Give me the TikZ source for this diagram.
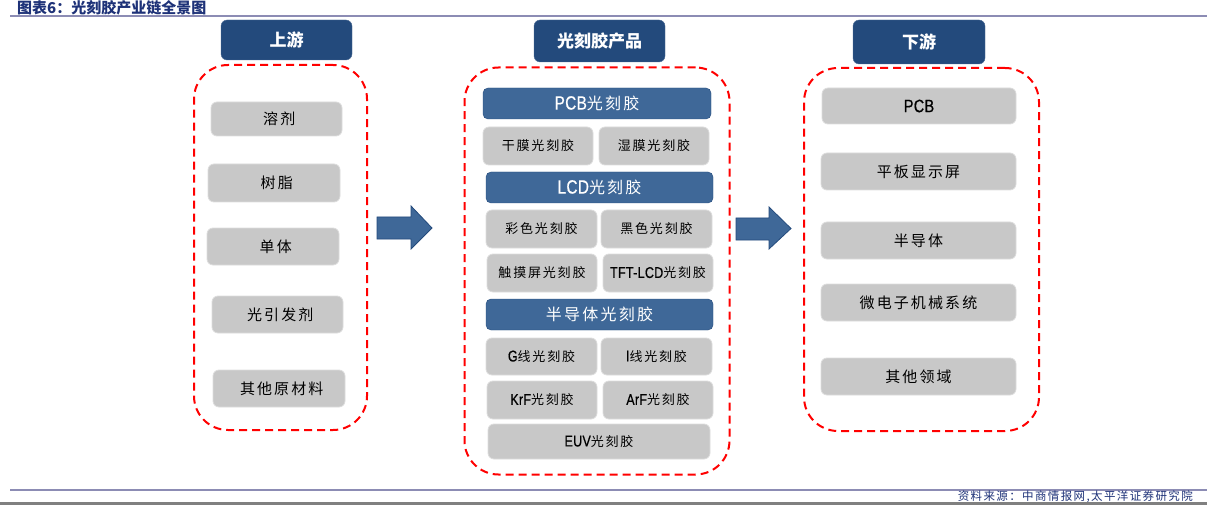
\documentclass[tikz,border=0pt]{standalone}
\usepackage{fontspec}
\setmainfont{Noto Sans CJK SC}
\newfontfamily\spc[LetterSpace=14]{Noto Sans CJK SC}
\newfontfamily\latf[FakeStretch=0.8,Scale=1.2,FakeBold=0.6]{Liberation Sans}
\newcommand{\lt}[1]{{\latf\addfontfeature{LetterSpace=2}#1}}
\definecolor{hdrblue}{HTML}{234A7C}
\definecolor{barblue}{HTML}{3F6898}
\definecolor{boxgray}{HTML}{C8C8C8}
\definecolor{boxedge}{HTML}{DCDCDC}
\definecolor{rulecol}{HTML}{8C8CB4}
\definecolor{titlecol}{HTML}{1E3278}
\begin{document}
\begin{tikzpicture}[x=1pt,y=-1pt,
  hdr/.style={draw=hdrblue!80!white, fill=hdrblue, rounded corners=6pt, text=white, font=\bfseries\fontsize{17}{17}\selectfont, inner sep=0pt},
  bar/.style={draw=hdrblue, fill=barblue, rounded corners=5pt, text=white, font=\spc\fontsize{16}{16}\selectfont, inner sep=0pt},
  gbox/.style={draw=boxedge, line width=0.8pt, fill=boxgray, rounded corners=6pt, text=black, font=\spc\fontsize{15}{15}\selectfont, inner sep=0pt},
  mbox/.style={gbox, font=\spc\fontsize{13}{13}\selectfont},
  dashbox/.style={draw=red, line width=2pt, dash pattern=on 8pt off 5pt, rounded corners=34pt, inner sep=0pt},
  blockarrow/.style={fill=barblue, draw=hdrblue, line width=0.8pt}
]
\useasboundingbox (0,0) rectangle (1207,505);
% title and rules
\node[anchor=west, text=titlecol, font=\bfseries\fontsize{15}{15}\selectfont, inner sep=0pt] (title) at (17,8) {图表6：光刻胶产业链全景图};
\draw[rulecol, line width=2pt] (10,16.5) -- (1207,16.5);
\draw[rulecol, line width=2pt] (10,489.5) -- (1207,489.5);
\draw[gray, line width=3pt] (0,503.5) -- (1207,503.5);
\node[anchor=east, text=titlecol, font=\fontsize{11.5}{11.5}\selectfont\addfontfeature{LetterSpace=12}, inner sep=0pt] (src) at (1193,497) {资料来源：中商情报网,太平洋证券研究院};

% headers
\node[hdr, minimum width=131pt, minimum height=40pt] (up) at (286.5,40) {上游};
\node[hdr, minimum width=131pt, minimum height=42pt] (prod) at (599.5,41) {光刻胶产品};
\node[hdr, minimum width=132pt, minimum height=44pt] (down) at (919,42) {下游};

% dashed containers
\node[dashbox, minimum width=173pt, minimum height=365pt] (left) at (280.5,247.5) {};
\node[dashbox, minimum width=265pt, minimum height=407pt] (mid) at (597,271) {};
\node[dashbox, minimum width=235pt, minimum height=363pt] (right) at (921.5,249.5) {};

% upstream
\node[gbox, minimum width=131pt, minimum height=34pt] (u1) at (276.5,119) {\ 溶剂};
\node[gbox, minimum width=132pt, minimum height=38pt] (u2) at (274,183) {\ 树脂};
\node[gbox, minimum width=132pt, minimum height=37pt] (u3) at (273,246.5) {\ 单体};
\node[gbox, minimum width=131pt, minimum height=37pt] (u4) at (277.5,314.5) {\ 光引发剂};
\node[gbox, minimum width=132pt, minimum height=37pt] (u5) at (279,388.5) {\ 其他原材料};

% products
\node[bar, minimum width=228pt, minimum height=31pt] (pcb) at (597,103.5) {\lt{PCB}光刻胶};
\node[mbox, minimum width=110pt, minimum height=38pt] (p1) at (538,146) {干膜光刻胶};
\node[mbox, minimum width=110pt, minimum height=38pt] (p2) at (654,146) {湿膜光刻胶};
\node[bar, minimum width=227pt, minimum height=31pt] (lcd) at (599.5,187.5) {\lt{LCD}光刻胶};
\node[mbox, minimum width=111pt, minimum height=38pt] (l1) at (541.5,229) {彩色光刻胶};
\node[mbox, minimum width=111pt, minimum height=38pt] (l2) at (656.5,229) {黑色光刻胶};
\node[mbox, minimum width=110pt, minimum height=38pt] (l3) at (542,273) {触摸屏光刻胶};
\node[mbox, minimum width=110pt, minimum height=38pt] (l4) at (658,273) {\lt{TFT-LCD}光刻胶};
\node[bar, minimum width=227pt, minimum height=31pt] (semi) at (599.5,314.5) {半导体光刻胶};
\node[mbox, minimum width=111pt, minimum height=37pt] (s1) at (541.5,356.5) {\lt{G}线光刻胶};
\node[mbox, minimum width=111pt, minimum height=37pt] (s2) at (656.5,356.5) {\lt{I}线光刻胶};
\node[mbox, minimum width=110pt, minimum height=38pt] (s3) at (542,400) {\lt{KrF}光刻胶};
\node[mbox, minimum width=110pt, minimum height=38pt] (s4) at (658,400) {\lt{ArF}光刻胶};
\node[mbox, minimum width=222pt, minimum height=35pt] (s5) at (599,441.5) {\lt{EUV}光刻胶};

% downstream
\node[gbox, minimum width=194pt, minimum height=36pt] (d1) at (919,106) {\lt{PCB}};
\node[gbox, minimum width=195pt, minimum height=37pt] (d2) at (918.5,171.5) {平板显示屏};
\node[gbox, minimum width=195pt, minimum height=37pt] (d3) at (918.5,240.5) {半导体};
\node[gbox, minimum width=195pt, minimum height=37pt] (d4) at (918.5,302.5) {微电子机械系统};
\node[gbox, minimum width=195pt, minimum height=37pt] (d5) at (918.5,376.5) {其他领域};

% block arrows
\draw[blockarrow] (377,217) -- (411,217) -- (411,206) -- (432,228) -- (411,249) -- (411,239) -- (377,239) -- cycle;
\draw[blockarrow] (736,218) -- (769,218) -- (769,207) -- (791,228.5) -- (769,249) -- (769,240) -- (736,240) -- cycle;
\end{tikzpicture}
\end{document}
